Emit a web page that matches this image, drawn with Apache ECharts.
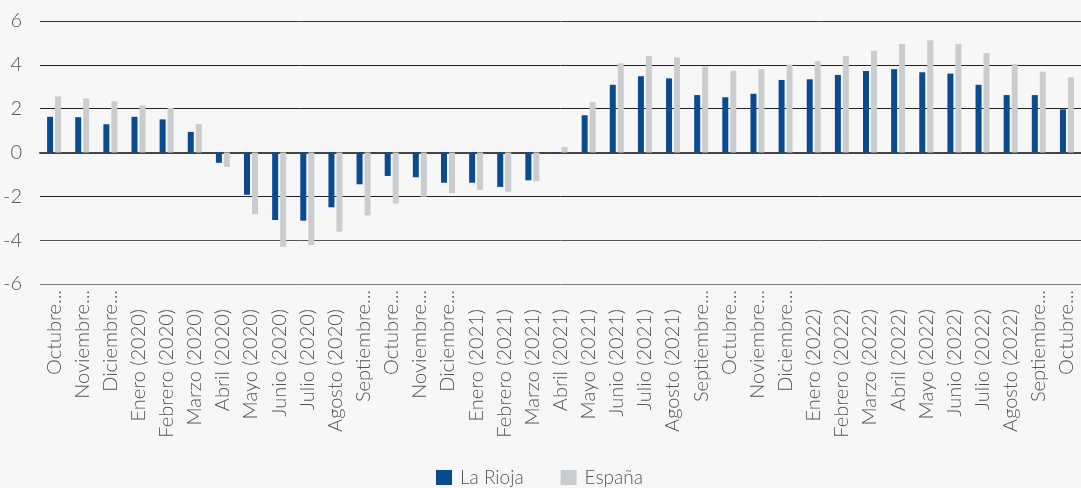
<!DOCTYPE html>
<html>
<head>
<meta charset="utf-8">
<script src="https://cdn.jsdelivr.net/npm/echarts@6/dist/echarts.min.js"></script>
<style>
html,body{margin:0;padding:0;background:#f7f7f7;overflow:hidden;}
#chart{width:1081px;height:488px;}
</style>
</head>
<body>
<div id="chart"></div>
<script>
const categories = [
  "Octubre (2019)","Noviembre (2019)","Diciembre (2019)",
  "Enero (2020)","Febrero (2020)","Marzo (2020)","Abril (2020)","Mayo (2020)","Junio (2020)",
  "Julio (2020)","Agosto (2020)","Septiembre (2020)","Octubre (2020)","Noviembre (2020)","Diciembre (2020)",
  "Enero (2021)","Febrero (2021)","Marzo (2021)","Abril (2021)","Mayo (2021)","Junio (2021)",
  "Julio (2021)","Agosto (2021)","Septiembre (2021)","Octubre (2021)","Noviembre (2021)","Diciembre (2021)",
  "Enero (2022)","Febrero (2022)","Marzo (2022)","Abril (2022)","Mayo (2022)","Junio (2022)",
  "Julio (2022)","Agosto (2022)","Septiembre (2022)","Octubre (2022)"
];
const tickLabels = [
  "Octubre...","Noviembre...","Diciembre...",
  "Enero (2020)","Febrero (2020)","Marzo (2020)","Abril (2020)","Mayo (2020)","Junio (2020)",
  "Julio (2020)","Agosto (2020)","Septiembre...","Octubre...","Noviembre...","Diciembre...",
  "Enero (2021)","Febrero (2021)","Marzo (2021)","Abril (2021)","Mayo (2021)","Junio (2021)",
  "Julio (2021)","Agosto (2021)","Septiembre...","Octubre...","Noviembre...","Diciembre...",
  "Enero (2022)","Febrero (2022)","Marzo (2022)","Abril (2022)","Mayo (2022)","Junio (2022)",
  "Julio (2022)","Agosto (2022)","Septiembre...","Octubre..."
];
const laRioja = [
  1.63,1.61,1.29,1.63,1.51,0.94,-0.47,-1.93,-3.08,-3.11,-2.50,-1.45,-1.07,-1.13,-1.38,-1.38,-1.57,-1.27,
  -0.05,1.70,3.09,3.48,3.38,2.62,2.52,2.68,3.31,3.34,3.54,3.72,3.80,3.66,3.60,3.09,2.62,2.62,1.97
];
const espana = [
  2.56,2.47,2.34,2.15,2.03,1.30,-0.66,-2.82,-4.30,-4.23,-3.61,-2.87,-2.33,-2.02,-1.86,-1.70,-1.79,-1.32,
  0.25,2.30,4.07,4.40,4.34,3.93,3.73,3.80,4.01,4.17,4.40,4.64,4.95,5.12,4.95,4.54,4.04,3.69,3.43
];
const seriesNames = ["La Rioja","España"];

const FONT = "Lato";
const LBL = 20;
const chart = echarts.init(document.getElementById('chart'), null, {renderer:'canvas'});
chart.setOption({
  backgroundColor:'#f7f7f7',
  animation:false,
  textStyle:{fontFamily:FONT},
  legend:{
    data:seriesNames,
    left:431, top:463,
    icon:'rect', itemWidth:16, itemHeight:15, itemGap:37, itemStyle:{borderWidth:0},
    textStyle:{fontFamily:FONT, fontSize:19, fontWeight:300, color:'#555', padding:[0,0,0,3]}
  },
  grid:{left:40, top:21, width:1057, height:263, containLabel:false},
  xAxis:{
    type:'category',
    data:categories,
    axisTick:{show:false},
    axisLine:{onZero:true, lineStyle:{color:'#444', width:2}},
    axisLabel:{
      interval:0, rotate:90, margin:6,
      fontFamily:FONT, fontSize:LBL, fontWeight:300, color:'#555',
      formatter:function(v, i){
        const t = tickLabels[i];
        return t.endsWith('...') ? '{t|' + t + '}' : '{f|' + t + '}';
      },
      rich:{
        t:{fontFamily:FONT, fontSize:LBL, fontWeight:300, color:'#555'},
        f:{fontFamily:FONT, fontSize:LBL, fontWeight:300, color:'#555', padding:[0,19,0,0]}
      }
    }
  },
  yAxis:{
    type:'value', min:-6, max:6, interval:2,
    axisLine:{show:false}, axisTick:{show:false},
    axisLabel:{margin:18, fontFamily:FONT, fontSize:20, fontWeight:300, color:'#555'},
    splitLine:{lineStyle:{color:['#7a7a7a','#555','#222','#444','#222','#222','#333'], width:1}}
  },
  series:[
    {name:seriesNames[0], type:'bar', data:laRioja, barWidth:6, barGap:'33%',
     itemStyle:{color:'#0a4a8f'}},
    {name:seriesNames[1], type:'bar', data:espana, barWidth:6, barGap:'33%',
     itemStyle:{color:'#c9cdd0'}}
  ]
});
</script>
</body>
</html>
